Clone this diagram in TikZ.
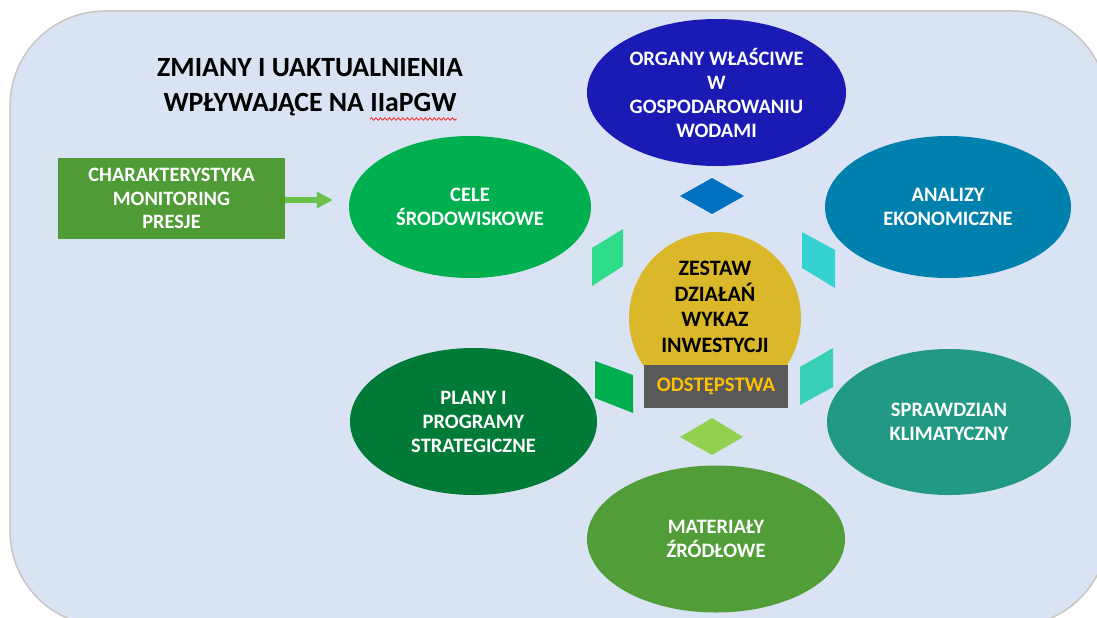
\documentclass[tikz,border=0pt]{standalone}
\usepackage{fontspec}
\setmainfont{Carlito}
\usetikzlibrary{shapes.geometric,arrows.meta,decorations.pathmorphing}
\definecolor{bgfill}{HTML}{DAE3F3}
\definecolor{bgline}{HTML}{C6C6C6}
\definecolor{cblue}{HTML}{1A1AB4}
\definecolor{cgreen}{HTML}{00B050}
\definecolor{cteal}{HTML}{0081AD}
\definecolor{cdkgreen}{HTML}{007A37}
\definecolor{cseagreen}{HTML}{229985}
\definecolor{cleaf}{HTML}{519E38}
\definecolor{crect}{HTML}{4F9C37}
\definecolor{carrow}{HTML}{6CC04C}
\definecolor{cgold}{HTML}{DAB82A}
\definecolor{cbox}{HTML}{595959}
\definecolor{cboxtext}{HTML}{FFC000}
\definecolor{dtop}{HTML}{0070C0}
\definecolor{dbot}{HTML}{92D050}
\definecolor{pone}{HTML}{2EDC8A}
\definecolor{ptwo}{HTML}{36D2D2}
\definecolor{pthree}{HTML}{00B050}
\definecolor{pfour}{HTML}{38D1B8}
\tikzset{
  blob/.style={ellipse, inner sep=0pt, minimum width=246pt, minimum height=146pt,
    text=white, align=center, font=\bfseries\fontsize{20.5}{24}\selectfont},
}
\begin{document}
\begin{tikzpicture}[x=1pt,y=-1pt]
\useasboundingbox (0,0) rectangle (1097,618);
% background
\draw[bgline, line width=1.5pt, fill=bgfill, rounded corners=95pt] (10,11) rectangle (1108,626);
% title
\node[font=\bfseries\fontsize{27.8}{35}\selectfont, align=center] (title) at (310,87) {ZMIANY I UAKTUALNIENIA\\WPŁYWAJĄCE NA IIaPGW};
\draw[red!85!white, line width=0.8pt, decorate, decoration={snake, amplitude=1.3pt, segment length=4.5pt}] (370,119) -- (457,119);
% ellipses
\node[blob, fill=cblue, minimum width=259pt, minimum height=147pt] (org) at (716.5,92.5) {ORGANY WŁAŚCIWE\\W\\GOSPODAROWANIU\\WODAMI};
\node[blob, fill=cgreen, minimum width=242pt, minimum height=142pt] (cele) at (470,207) {CELE\\ŚRODOWISKOWE};
\node[blob, fill=cteal, minimum width=246pt, minimum height=142pt] (anal) at (948,207) {ANALIZY\\EKONOMICZNE};
\node[blob, fill=cdkgreen, minimum width=247pt, minimum height=147pt] (plany) at (473.5,421.5) {PLANY I\\PROGRAMY\\STRATEGICZNE};
\node[blob, fill=cseagreen, minimum width=244pt] (spraw) at (949,422) {SPRAWDZIAN\\KLIMATYCZNY};
\node[blob, fill=cleaf, minimum width=258pt, minimum height=147pt] (mat) at (716,539) {MATERIAŁY\\ŹRÓDŁOWE};
% rectangle and arrow
\node[fill=crect, minimum width=227pt, minimum height=81pt, inner sep=0pt, text=white, align=center,
  font=\bfseries\fontsize{20.4}{23.5}\selectfont] (char) at (171.5,198.5) {CHARAKTERYSTYKA\\MONITORING\\PRESJE};
\coordinate (arrend) at ([xshift=-16pt]char.east -| cele.west);
\draw[carrow, line width=6pt, -{Triangle[length=16pt,width=16pt]}] ([yshift=-1.5pt]char.east) -- ([yshift=-1.5pt]arrend);
% diamonds and parallelograms
\fill[dtop] (680,196) -- (712,178) -- (744,196) -- (712,214) -- cycle;
\fill[dbot] (680,437) -- (712,418) -- (743,437) -- (712,455) -- cycle;
\fill[pone] (623,229) -- (623,266) -- (592,286) -- (592,248) -- cycle;
\fill[ptwo] (802,232) -- (802,268) -- (835,288) -- (835,250) -- cycle;
\fill[pthree] (595,361) -- (595,398) -- (633,413) -- (633,375) -- cycle;
\fill[pfour] (800,367) -- (800,405) -- (833,387) -- (833,348) -- cycle;
% centre
\node[circle, fill=cgold, minimum size=172pt, inner sep=0pt] (zest) at (715,318) {};
\node[align=center, font=\bfseries\fontsize{22}{25.5}\selectfont, text=black] (zesttxt) at (715,307) {ZESTAW\\DZIAŁAŃ\\WYKAZ\\INWESTYCJI};
\node[fill=cbox, minimum width=144pt, minimum height=43pt, inner sep=0pt, text=cboxtext,
  font=\bfseries\fontsize{20.7}{22}\selectfont] (odst) at (716,386.5) {ODSTĘPSTWA};
\end{tikzpicture}
\end{document}
